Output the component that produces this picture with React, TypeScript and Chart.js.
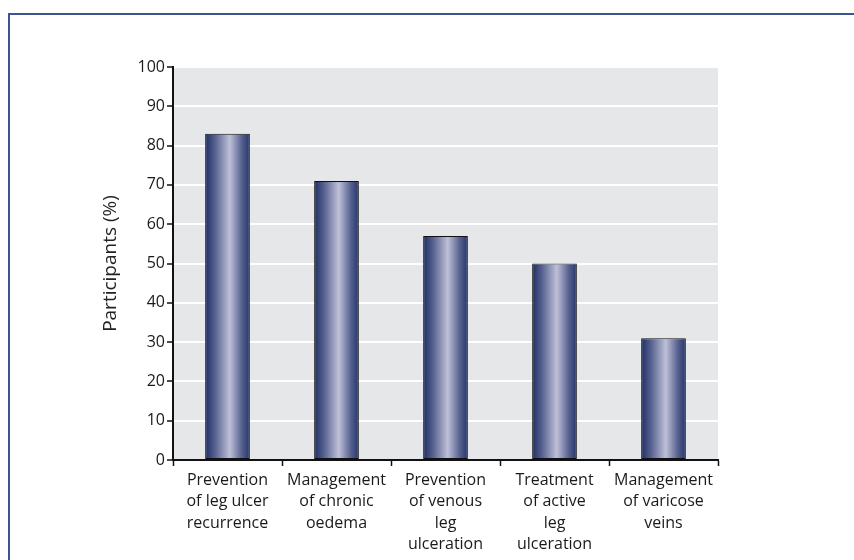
import React, { useEffect, useRef } from "react";
import { Chart, registerables } from "chart.js";

Chart.register(...registerables);

const categories: string[][] = [
  ["Prevention", "of leg ulcer", "recurrence"],
  ["Management", "of chronic", "oedema"],
  ["Prevention", "of venous", "leg", "ulceration"],
  ["Treatment", "of active", "leg", "ulceration"],
  ["Management", "of varicose", "veins"],
];
const participants: number[] = [83, 71, 57, 50, 31];
const yTitle = "Participants (%)";

const FONT = "'Open Sans', 'DejaVu Sans', sans-serif";
const BAR_PCT = 0.41;

const bgPlugin = {
  id: "plotBg",
  beforeDraw(chart: any) {
    const { ctx, chartArea } = chart;
    if (!chartArea) return;
    ctx.save();
    ctx.fillStyle = "#e6e7e8";
    ctx.fillRect(chartArea.left, chartArea.top, chartArea.right - chartArea.left, chartArea.bottom - chartArea.top);
    ctx.restore();
  },
};

export default function App() {
  const ref = useRef<HTMLCanvasElement | null>(null);

  useEffect(() => {
    if (!ref.current) return;
    const chart = new Chart(ref.current, {
      type: "bar",
      data: {
        labels: categories,
        datasets: [
          {
            data: participants,
            backgroundColor: (c: any) => {
              const ch = c.chart;
              const xs = ch.scales && ch.scales.x;
              if (!xs || !ch.chartArea) return "#3a4878";
              const cx = xs.getPixelForValue(c.dataIndex);
              const w = (xs.width / categories.length) * BAR_PCT;
              const g = ch.ctx.createLinearGradient(cx - w / 2, 0, cx + w / 2, 0);
              g.addColorStop(0, "#1e2d62");
              g.addColorStop(0.22, "#56618f");
              g.addColorStop(0.55, "#bfc0d8");
              g.addColorStop(0.82, "#56618f");
              g.addColorStop(1, "#25346a");
              return g;
            },
            borderColor: "#111",
            borderWidth: 1,
            borderSkipped: false,
            barPercentage: BAR_PCT,
            categoryPercentage: 1,
          },
        ],
      },
      options: {
        animation: false,
        responsive: false,
        maintainAspectRatio: false,
        layout: { padding: { top: 67, right: 136, left: 97, bottom: 0 } },
        plugins: { legend: { display: false }, tooltip: { enabled: false } },
        scales: {
          x: {
            offset: true,
            grid: {
              offset: true,
              drawOnChartArea: false,
              tickLength: 6,
              tickColor: "#111",
              tickWidth: 1.5,
            },
            border: { color: "#111", width: 2 },
            ticks: {
              color: "#1a1a1a",
              font: { family: FONT, size: 16, lineHeight: 1.33 },
              padding: 4,
              maxRotation: 0,
              autoSkip: false,
            },
            afterFit: (s: any) => {
              s.height = 100;
            },
          },
          y: {
            min: 0,
            max: 100,
            ticks: {
              stepSize: 10,
              color: "#1a1a1a",
              font: { family: FONT, size: 16 },
              padding: 2,
            },
            grid: {
              color: "#ffffff",
              lineWidth: 2,
              tickColor: "#111",
              tickLength: 6,
              tickWidth: 1.5,
            },
            border: { color: "#111", width: 2 },
            title: {
              display: true,
              text: yTitle,
              color: "#222",
              font: { family: FONT, size: 19 },
              padding: { top: 2, bottom: 4 },
            },
            afterFit: (s: any) => {
              s.width = 76;
            },
          },
        },
      },
      plugins: [bgPlugin],
    });
    return () => chart.destroy();
  }, []);

  return (
    <div style={{ position: "absolute", left: 0, top: 0, width: 854, height: 560, background: "#fff", overflow: "hidden" }}>
      <div
        style={{
          position: "absolute",
          left: 8,
          top: 13,
          width: 860,
          height: 560,
          borderLeft: "2px solid #3c5590",
          borderTop: "2px solid #3c5590",
        }}
      />
      <canvas ref={ref} width={854} height={560} style={{ position: "absolute", left: 0, top: 0, width: 854, height: 560 }} />
    </div>
  );
}
